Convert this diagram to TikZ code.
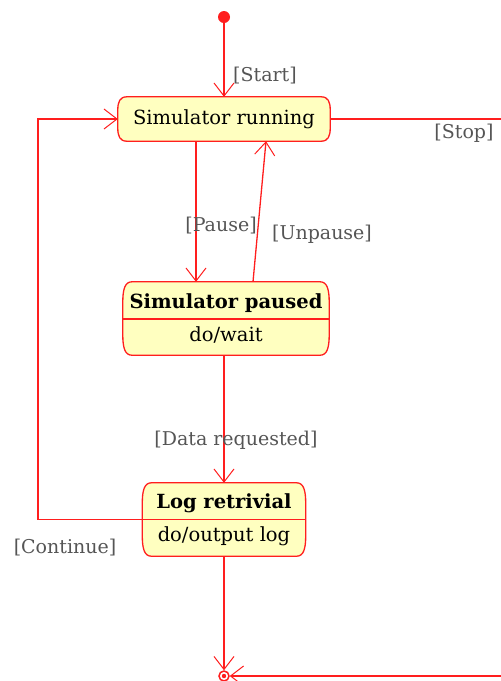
\documentclass[tikz,border=0pt]{standalone}
\usepackage{fontspec}
\setmainfont{DejaVu Serif}
\usetikzlibrary{arrows.meta,calc}
\pgfdeclarelayer{background}
\pgfsetlayers{background,main}
\definecolor{lred}{RGB}{255,30,30}
\definecolor{sfill}{RGB}{255,255,192}
\definecolor{lgray}{RGB}{85,85,85}
% outline of a UML state with curved sides: #1 node name, #2 corner depth
\newcommand\umlstateoutline[2]{%
  \begin{pgfonlayer}{background}
  \path[soutline] let \p1=(#1.north west), \p2=(#1.south east) in
    ({\x1+9pt},\y1) -- ({\x2-9pt},\y1)
    .. controls ({\x2-2pt},\y1) and (\x2,{\y1-#2*0.4}) .. (\x2,{\y1-#2})
    -- (\x2,{\y2+#2})
    .. controls (\x2,{\y2+#2*0.4}) and ({\x2-2pt},\y2) .. ({\x2-9pt},\y2)
    -- ({\x1+9pt},\y2)
    .. controls ({\x1+2pt},\y2) and (\x1,{\y2+#2*0.4}) .. (\x1,{\y2+#2})
    -- (\x1,{\y1-#2})
    .. controls (\x1,{\y1-#2*0.4}) and ({\x1+2pt},\y1) .. cycle;
  \end{pgfonlayer}}
\begin{document}
\begin{tikzpicture}[x=1pt,y=-1pt,
  conn/.style={draw=lred,line width=1.3pt},
  arr/.style={conn,-{Straight Barb[length=13pt,width=20pt,line width=1pt]}},
  soutline/.style={draw=lred,fill=sfill,line width=1.3pt},
  statebox/.style={inner sep=0pt},
  stxt/.style={inner sep=0pt,font=\fontsize{19.5}{22}\selectfont},
  sbold/.style={inner sep=0pt,font=\fontsize{19.5}{22}\selectfont\bfseries},
  lbl/.style={text=lgray,inner sep=0pt,font=\fontsize{19}{22}\selectfont}
]
\useasboundingbox (0,0) rectangle (501,681);
% states
\node[circle,fill=lred,inner sep=0pt,minimum size=12pt] (init) at (224,17) {};
\node[statebox,stxt,minimum width=212pt,minimum height=44pt] (run) at (224,119) {Simulator running};
\umlstateoutline{run}{13pt}
\node[statebox,minimum width=206pt,minimum height=73pt] (paused) at (226,318.5) {};
\umlstateoutline{paused}{20pt}
\draw[conn] (paused.west |- 0,319) coordinate (pdl) -- (paused.east |- 0,319) coordinate (pdr);
\node[sbold] (ptitle) at (226,303) {Simulator paused};
\node[stxt] (pdo) at (226,335) {do/wait};
\node[statebox,minimum width=163pt,minimum height=73pt] (log) at (224,519.5) {};
\umlstateoutline{log}{20pt}
\draw[conn] (log.west) -- (log.east);
\node[sbold] (ltitle) at (224,503) {Log retrivial};
\node[stxt] (ldo) at (224,536) {do/output log};
\node[circle,draw=lred,line width=1.5pt,fill=white,inner sep=0pt,minimum size=10pt] (final) at (224,676) {};
\fill[lred] (final.center) circle (2.2pt);
% connectors
\draw[arr] (init) -- (run.north);
\node[lbl] (lstart) at (265,76) {[Start]};
\draw[arr] ($(run.south)+(-28,0)$) -- ($(paused.north)+(-30,0)$);
\node[lbl] (lpause) at (221,226) {[Pause]};
\draw[arr] ($(paused.north)+(27,0)$) -- ($(run.south)+(42,0)$);
\node[lbl] (lunpause) at (322,234) {[Unpause]};
\draw[arr] (paused.south -| log.north) -- (log.north);
\node[lbl] (ldata) at (236,440) {[Data requested]};
\coordinate (cl) at (38,519.5);
\draw[arr] (log.west) -- (cl) |- (run.west);
\node[lbl] (lcont) at (65,548) {[Continue]};
\draw[arr] (log.south) -- (final.north);
\coordinate (rc) at (520,119);
\draw[arr] (run.east) -- (rc) |- (final.east);
\node[lbl] (lstop) at (464,133) {[Stop]};
\end{tikzpicture}
\end{document}
